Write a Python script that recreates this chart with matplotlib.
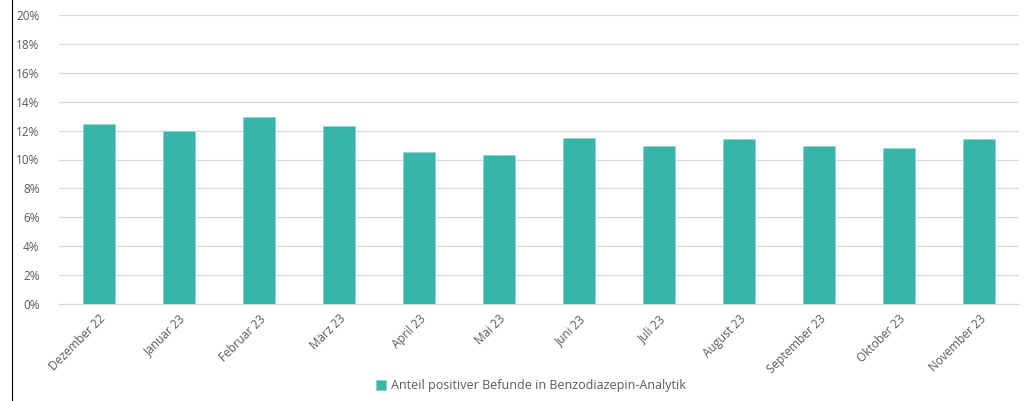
import matplotlib

matplotlib.use("Agg")

import matplotlib.pyplot as plt
from matplotlib.ticker import FuncFormatter, MultipleLocator

months = [
    "Dezember 22", "Januar 23", "Februar 23", "März 23", "April 23", "Mai 23",
    "Juni 23", "Juli 23", "August 23", "September 23", "Oktober 23", "November 23",
]
share_positive = [12.46, 11.97, 12.94, 12.32, 10.52, 10.31,
                  11.49, 10.93, 11.42, 10.93, 10.80, 11.42]
series_label = "Anteil positiver Befunde in Benzodiazepin-Analytik"

BAR_COLOR = "#37B5AA"
TEXT_COLOR = "#595959"

plt.rcParams["font.family"] = ["Open Sans", "DejaVu Sans"]

fig = plt.figure(figsize=(10.32, 4.01), dpi=100)
ax = fig.add_axes([59 / 1032, 1 - 304 / 401, (1019 - 59) / 1032, (304 - 15) / 401])

x = range(len(months))
ax.bar(x, share_positive, width=0.4, color=BAR_COLOR, edgecolor="#8ED6CF",
       linewidth=0.6, label=series_label, zorder=3)

ax.set_xlim(-0.5, len(months) - 0.5)
ax.set_ylim(0, 20)
ax.yaxis.set_major_locator(MultipleLocator(2))
ax.yaxis.set_major_formatter(FuncFormatter(lambda v, _: f"{v:.0f}%"))
ax.grid(axis="y", color="#D9D9D9", linewidth=0.9, zorder=0)
for side in ("top", "right", "left"):
    ax.spines[side].set_visible(False)
ax.spines["bottom"].set_color("#D9D9D9")
ax.tick_params(axis="both", length=0, colors=TEXT_COLOR, labelsize=8.5)
ax.tick_params(axis="y", pad=14)
ax.set_xticks(list(x))
ax.set_xticklabels(months, rotation=45, ha="right", rotation_mode="anchor")
ax.tick_params(axis="x", pad=6)

fig.legend(loc="center", bbox_to_anchor=(531 / 1032, 1 - 386 / 401), frameon=False,
           fontsize=9, handlelength=0.8, handleheight=0.8, handletextpad=0.4,
           labelcolor=TEXT_COLOR)

# left border line of the original frame
fig.add_artist(plt.Line2D([12 / 1032, 12 / 1032], [0, 1], color="black", linewidth=0.8))

fig.savefig("out.png", dpi=100)
